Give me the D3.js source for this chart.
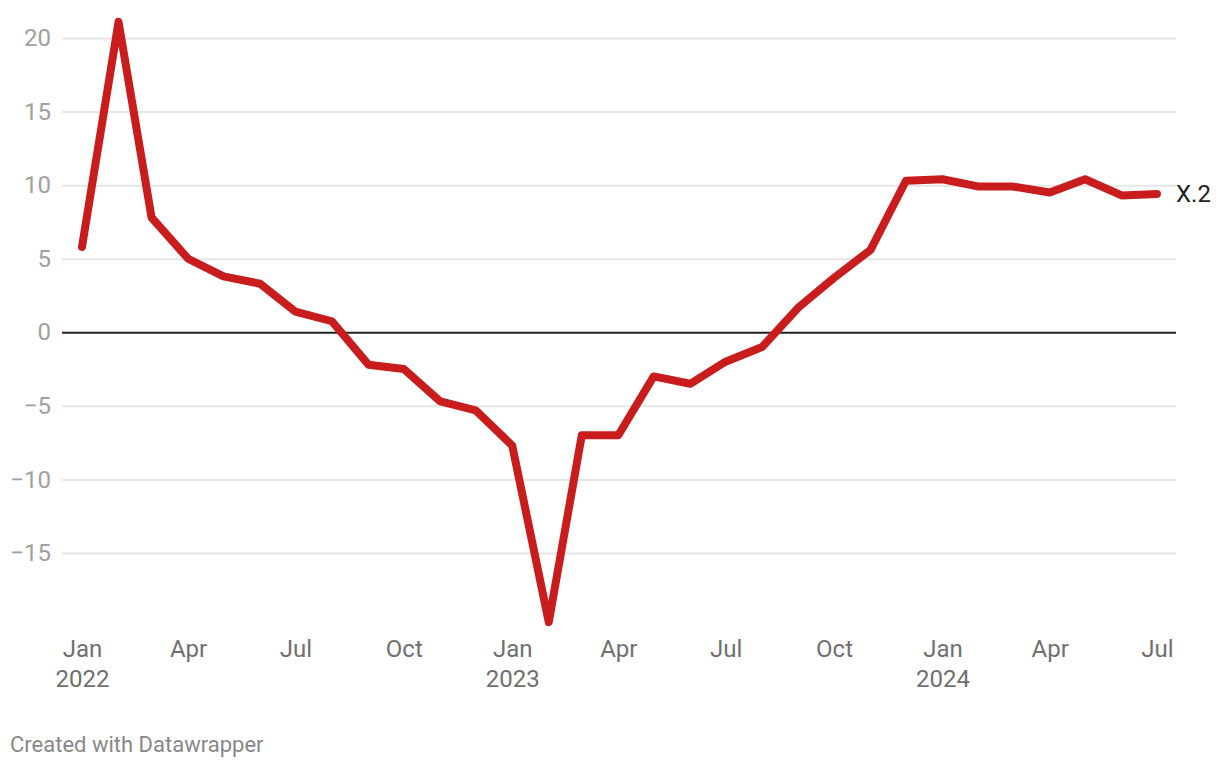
<!DOCTYPE html>
<html>
<head>
<meta charset="utf-8">
<script src="https://cdn.jsdelivr.net/npm/d3@7"></script>
<style>
  body { margin: 0; background: #fff; font-family: Roboto, sans-serif; }
  #vis { width: 1220px; height: 768px; }
</style>
</head>
<body>
<div id="vis"></div>
<script>
var months = ['2022-01','2022-02','2022-03','2022-04','2022-05','2022-06','2022-07','2022-08','2022-09','2022-10','2022-11','2022-12',
  '2023-01','2023-02','2023-03','2023-04','2023-05','2023-06','2023-07','2023-08','2023-09','2023-10','2023-11','2023-12',
  '2024-01','2024-02','2024-03','2024-04','2024-05','2024-06','2024-07'];
var values = [5.8, 21.1, 7.8, 5.0, 3.8, 3.3, 1.4, 0.75, -2.2, -2.5, -4.7, -5.3,
  -7.7, -19.7, -7.0, -7.0, -3.0, -3.5, -2.0, -1.0, 1.7, 3.7, 5.6, 10.3,
  10.4, 9.9, 9.9, 9.5, 10.4, 9.3, 9.4];
var yTicks = [-15, -10, -5, 0, 5, 10, 15, 20];
var xTickMonths = ['2022-01','2022-04','2022-07','2022-10','2023-01','2023-04','2023-07','2023-10','2024-01','2024-04','2024-07'];
var seriesLabel = 'X.2';

var width = 1220, height = 768;
var parse = d3.timeParse('%Y-%m');

var svg = d3.select('#vis')
  .append('svg')
  .attr('width', width)
  .attr('height', height);

var x = d3.scaleTime()
  .domain([parse('2022-01'), parse('2024-07')])
  .range([82, 1157]);

var y = d3.scaleLinear()
  .domain([-15, 20])
  .range([553, 38]);

// grid
var grid = svg.append('g')
  .attr('transform', 'translate(62,0)')
  .call(d3.axisLeft(y).tickValues(yTicks).tickSize(-1114).tickFormat(function(d) {
    return d < 0 ? '\u2212' + Math.abs(d) : d;
  }));
grid.select('.domain').remove();
grid.selectAll('.tick line')
  .attr('stroke', function(d) { return d === 0 ? '#222' : '#e6e6e6'; })
  .attr('stroke-width', 2);
grid.selectAll('.tick text')
  .attr('x', -11)
  .attr('fill', '#a0a0a0')
  .style('font-family', 'Roboto, sans-serif')
  .style('font-size', '24px');
grid.selectAll('.tick').filter(function(d) { return d === 0; }).raise();

// x axis
var xAxis = svg.append('g')
  .attr('transform', 'translate(0,632)')
  .call(d3.axisBottom(x).tickValues(xTickMonths.map(parse)).tickSize(0).tickFormat(d3.timeFormat('%b')));
xAxis.select('.domain').remove();
xAxis.selectAll('.tick text')
  .attr('y', 25)
  .attr('dy', 0)
  .attr('fill', '#707070')
  .style('font-family', 'Roboto, sans-serif')
  .style('font-size', '24px');
xAxis.selectAll('.tick')
  .filter(function(d) { return d.getMonth() === 0; })
  .append('text')
  .attr('y', 55)
  .attr('fill', '#707070')
  .attr('text-anchor', 'middle')
  .style('font-family', 'Roboto, sans-serif')
  .style('font-size', '24px')
  .text(function(d) { return d.getFullYear(); });

// line
var data = months.map(function(m, i) { return { date: parse(m), value: values[i] }; });

var line = d3.line()
  .x(function(d) { return x(d.date); })
  .y(function(d) { return y(d.value); });

svg.append('path')
  .datum(data)
  .attr('d', line)
  .attr('fill', 'none')
  .attr('stroke', '#c91d1d')
  .attr('stroke-width', 8)
  .attr('stroke-linejoin', 'round')
  .attr('stroke-linecap', 'round');

var last = data[data.length - 1];
svg.append('text')
  .attr('x', x(last.date) + 19)
  .attr('y', y(last.value))
  .attr('dy', '0.35em')
  .attr('fill', '#222')
  .style('font-size', '24px')
  .text(seriesLabel);

svg.append('text')
  .attr('x', 10)
  .attr('y', 752)
  .attr('fill', '#888')
  .style('font-size', '22px')
  .text('Created with Datawrapper');
</script>
</body>
</html>
